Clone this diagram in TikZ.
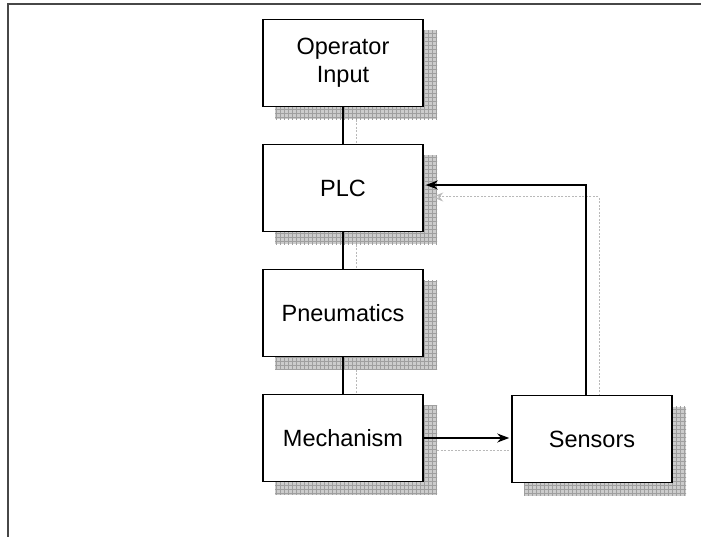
\documentclass[tikz,border=0pt]{standalone}
\usepackage{fontspec}
\setmainfont{Liberation Sans}
\usetikzlibrary{patterns,arrows.meta}
\pgfdeclarepatternformonly{shadowgrid}{\pgfqpoint{-1pt}{-1pt}}{\pgfqpoint{5pt}{5pt}}{\pgfqpoint{4pt}{4pt}}{%
  \pgfsetlinewidth{0.9pt}%
  \pgfpathmoveto{\pgfqpoint{0pt}{0pt}}\pgfpathlineto{\pgfqpoint{0pt}{4.1pt}}%
  \pgfpathmoveto{\pgfqpoint{0pt}{0pt}}\pgfpathlineto{\pgfqpoint{4.1pt}{0pt}}%
  \pgfusepath{stroke}}
\begin{document}
\begin{tikzpicture}[x=1pt,y=-1pt,
  blk/.style={draw=black,line width=1.6pt,fill=white,minimum width=160pt,minimum height=87pt,inner sep=0pt,align=center,font=\fontsize{23.5}{28}\selectfont},
  shd/.style={draw=none,preaction={fill=gray!40},pattern=shadowgrid,pattern color=gray!75,minimum width=162pt,minimum height=89pt,inner sep=0pt},
  conn/.style={line width=1.3pt,black},
  sconn/.style={line width=1pt,gray!55,dash pattern=on 2pt off 1.5pt},
  arr/.style={-{Stealth[length=12pt,width=9pt]},shorten >=2pt},
  sarr/.style={-{Stealth[length=11pt,width=9pt,open,line width=1.2pt]},shorten >=-5pt},
]
\useasboundingbox (0,0) rectangle (701,537);
\clip (0,0) rectangle (701,537);
% frame
\draw[line width=2pt,black!72] (7.5,560) -- (7.5,4.5) -- (720,4.5);

% shadows
\node[shd] (opS)   at (356,75)  {};
\node[shd] (plcS)  at (356,200) {};
\node[shd] (pnS)   at (356,325) {};
\node[shd] (mechS) at (356,450) {};
\node[shd] (sensS) at (605,451) {};
\coordinate (fbS) at (599,197);
\draw[sconn] (opS) -- (plcS);
\draw[sconn] (plcS) -- (pnS);
\draw[sconn] (pnS) -- (mechS);
\draw[sconn,sarr] (sensS.north -| fbS) -- (fbS) -- (fbS -| plcS.east);
\draw[sconn] (mechS.east) -- (mechS.east -| sensS.west);

% boxes
\node[blk] (op)   at (343,63)  {Operator\\Input};
\node[blk] (plc)  at (343,188) {PLC};
\node[blk] (pn)   at (343,313) {Pneumatics};
\node[blk] (mech) at (343,438) {Mechanism};
\node[blk] (sens) at (592,439) {Sensors};

% connectors
\coordinate (fb) at (586,185);
\draw[conn] (op) -- (plc);
\draw[conn] (plc) -- (pn);
\draw[conn] (pn) -- (mech);
\draw[conn,arr] (sens.north -| fb) -- (fb) -- (fb -| plc.east);
\draw[conn,arr] (mech.east) -- (mech.east -| sens.west);
\end{tikzpicture}
\end{document}
